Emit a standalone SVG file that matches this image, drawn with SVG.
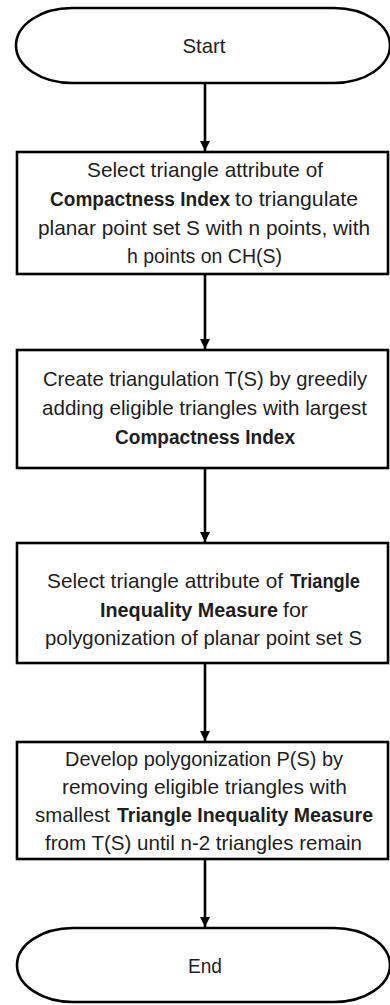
<svg xmlns="http://www.w3.org/2000/svg" width="390" height="1005" viewBox="0 0 390 1005">
<style>
.shape{fill:#fff;stroke:#000;stroke-width:2.6}
.t{font-family:"Liberation Sans",Arial,sans-serif;font-size:21px;fill:#1e1e1e;text-anchor:middle}
.s{text-anchor:start}
.b{font-weight:bold;font-size:19.5px}
.conn{stroke:#000;stroke-width:2.6;fill:none}
</style>
<defs>
<marker id="arr" viewBox="0 0 10 12" refX="10" refY="6" markerWidth="10" markerHeight="12" markerUnits="userSpaceOnUse" orient="auto">
<path d="M0,1 L10,6 L0,11 Z" fill="#000"/>
</marker>
</defs>
<rect width="390" height="1005" fill="#fff"/>
<g id="connectors">
<line class="conn" x1="205" y1="83" x2="205" y2="151" marker-end="url(#arr)"/>
<line class="conn" x1="205" y1="274" x2="205" y2="349" marker-end="url(#arr)"/>
<line class="conn" x1="205" y1="468" x2="205" y2="542" marker-end="url(#arr)"/>
<line class="conn" x1="205" y1="663" x2="205" y2="741" marker-end="url(#arr)"/>
<line class="conn" x1="205" y1="859" x2="205" y2="927" marker-end="url(#arr)"/>
</g>
<g id="start">
<rect class="shape" x="16" y="8" width="374" height="75" rx="56" ry="37.5"/>
<text class="t" x="204" y="53" textLength="43" lengthAdjust="spacingAndGlyphs">Start</text>
</g>
<g id="step1">
<rect class="shape" x="17" y="152" width="371" height="122"/>
<text class="t" x="205" y="177" textLength="236" lengthAdjust="spacingAndGlyphs">Select triangle attribute of</text>
<text class="t s b" x="50" y="206" textLength="180" lengthAdjust="spacingAndGlyphs">Compactness Index</text>
<text class="t s" x="235" y="206" textLength="123" lengthAdjust="spacingAndGlyphs">to triangulate</text>
<text class="t" x="204" y="235" textLength="332" lengthAdjust="spacingAndGlyphs">planar point set S with n points, with</text>
<text class="t" x="204.5" y="263" textLength="155" lengthAdjust="spacingAndGlyphs">h points on CH(S)</text>
</g>
<g id="step2">
<rect class="shape" x="17" y="350" width="371" height="118"/>
<text class="t" x="205" y="386" textLength="324" lengthAdjust="spacingAndGlyphs">Create triangulation T(S) by greedily</text>
<text class="t" x="204.5" y="415" textLength="325" lengthAdjust="spacingAndGlyphs">adding eligible triangles with largest</text>
<text class="t b" x="205" y="444" textLength="180" lengthAdjust="spacingAndGlyphs">Compactness Index</text>
</g>
<g id="step3">
<rect class="shape" x="17" y="543" width="371" height="120"/>
<text class="t s" x="47" y="588" textLength="236" lengthAdjust="spacingAndGlyphs">Select triangle attribute of</text>
<text class="t s b" x="290" y="588" textLength="70" lengthAdjust="spacingAndGlyphs">Triangle</text>
<text class="t s b" x="100" y="617" textLength="178" lengthAdjust="spacingAndGlyphs">Inequality Measure</text>
<text class="t s" x="283" y="617" textLength="25" lengthAdjust="spacingAndGlyphs">for</text>
<text class="t" x="203.5" y="645" textLength="317" lengthAdjust="spacingAndGlyphs">polygonization of planar point set S</text>
</g>
<g id="step4">
<rect class="shape" x="17" y="742" width="371" height="117"/>
<text class="t" x="204" y="766" textLength="278" lengthAdjust="spacingAndGlyphs">Develop polygonization P(S) by</text>
<text class="t" x="204.5" y="794" textLength="285" lengthAdjust="spacingAndGlyphs">removing eligible triangles with</text>
<text class="t s" x="35" y="822" textLength="75" lengthAdjust="spacingAndGlyphs">smallest</text>
<text class="t s b" x="117" y="822" textLength="256" lengthAdjust="spacingAndGlyphs">Triangle Inequality Measure</text>
<text class="t" x="203.5" y="850" textLength="317" lengthAdjust="spacingAndGlyphs">from T(S) until n-2 triangles remain</text>
</g>
<g id="end">
<rect class="shape" x="17" y="928" width="373" height="74" rx="56" ry="37"/>
<text class="t" x="205" y="973" textLength="34" lengthAdjust="spacingAndGlyphs">End</text>
</g>
</svg>
